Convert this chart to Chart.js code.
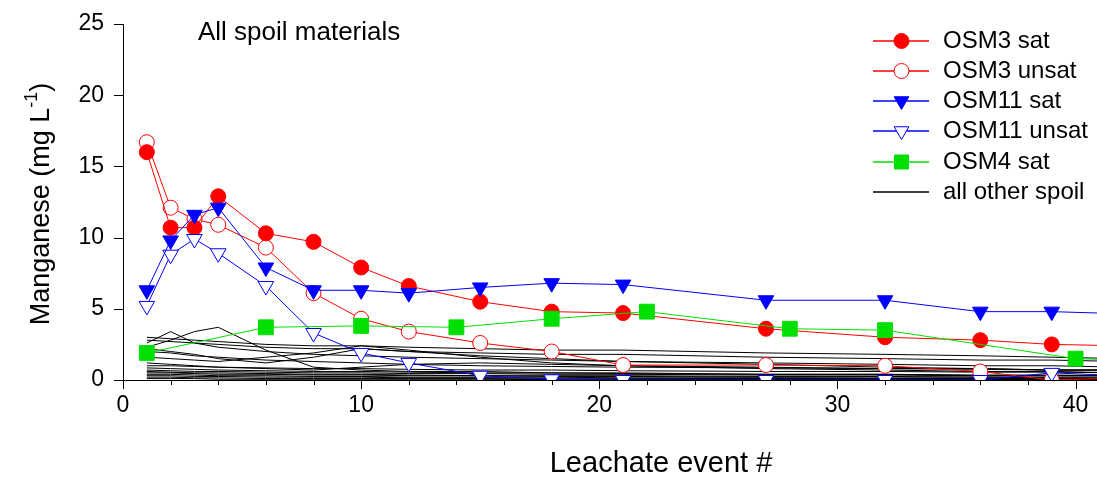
<!DOCTYPE html>
<html><head><meta charset="utf-8">
<script src="https://cdn.jsdelivr.net/npm/chart.js@4.4.0/dist/chart.umd.min.js"></script>
<style>html,body{margin:0;padding:0;background:#fff;} #wrap{width:1097px;height:477px;position:relative;}</style>
</head><body><div id="wrap"><canvas id="c" width="1097" height="477"></canvas></div>
<script>
// ---- data ----
const osm3Events = [1,2,3,4,6,8,10,12,15,18,21,27,32,36,39,42];
const osm3Sat    = [16.0,10.7,10.7,12.9,10.3,9.7,7.9,6.6,5.5,4.8,4.7,3.6,3.0,2.8,2.5,2.4];
const osm3Unsat  = [16.7,12.1,11.3,10.9,9.3,6.1,4.3,3.4,2.6,2.0,1.05,1.05,1.0,0.6,0.0,0.15];
const osm11Events = [1,2,3,4,6,8,10,12,15,18,21,27,32,36,39,42];
const osm11Sat   = [6.3,9.8,11.6,12.1,7.9,6.3,6.3,6.1,6.5,6.8,6.7,5.6,5.6,4.8,4.8,4.65];
const osm11Unsat = [5.2,8.8,9.9,8.9,6.6,3.3,1.9,1.2,0.3,0.05,0.0,0.0,0.0,0.0,0.5,0.3];
const osm4Events = [1,6,10,14,18,22,28,32,40,42];
const osm4Sat    = [1.9,3.7,3.8,3.7,4.3,4.8,3.6,3.5,1.5,1.4];

const otherEvents = [1,2,3,4,6,8,10,12,15,18,21,27,32,36,39,42];
const otherSpoil = [
  [3.0,2.9,2.8,2.7,2.5,2.4,2.4,2.3,2.2,2.1,2.1,1.9,1.8,1.7,1.6,1.5],
  [2.8,2.7,2.6,2.5,2.3,2.2,2.2,2.0,1.9,1.8,1.8,1.6,1.5,1.4,1.4,1.3],
  [2.6,3.4,2.6,2.3,2.0,1.8,1.7,1.6,1.5,1.4,1.3,1.2,1.1,1.0,1.0,0.9],
  [2.3,2.8,3.4,3.7,2.1,0.9,0.7,0.6,0.6,0.5,0.5,0.4,0.4,0.3,0.3,0.3],
  [2.2,2.0,1.8,1.5,1.2,1.6,2.2,2.0,1.7,1.5,1.3,1.1,0.9,0.8,0.7,0.7],
  [2.0,1.9,1.7,1.6,1.4,1.3,1.2,1.1,1.0,0.95,0.9,0.85,0.8,0.75,0.7,0.7],
  [1.6,1.5,1.4,1.3,1.6,1.9,2.4,2.1,1.6,1.2,1.0,0.8,0.7,0.6,0.6,0.5],
  [1.2,1.1,1.0,0.9,0.8,0.7,0.9,1.1,1.2,1.1,1.0,0.9,0.8,0.8,0.7,0.7],
  [1.0,1.0,0.95,0.9,0.85,0.8,0.8,0.75,0.7,0.7,0.65,0.6,0.6,0.55,0.55,0.5],
  [0.85,0.8,0.75,0.7,0.65,0.6,0.6,0.55,0.5,0.5,0.45,0.4,0.4,0.35,0.35,0.3],
  [0.7,0.65,0.6,0.6,0.55,0.5,0.5,0.45,0.45,0.4,0.4,0.35,0.35,0.3,0.3,0.3],
  [0.6,0.55,0.5,0.5,0.45,0.4,0.4,0.35,0.3,0.3,0.3,0.25,0.25,0.2,0.2,0.2],
  [0.5,0.5,0.45,0.4,0.4,0.35,0.35,0.3,0.3,0.25,0.25,0.2,0.2,0.2,0.15,0.15],
  [0.4,0.4,0.35,0.3,0.3,0.25,0.25,0.2,0.2,0.2,0.15,0.15,0.1,0.1,0.1,0.1],
  [0.3,0.3,0.25,0.25,0.2,0.2,0.2,0.15,0.15,0.12,0.12,0.1,0.1,0.08,0.08,0.08],
  [0.2,0.2,0.15,0.15,0.1,0.1,0.1,0.1,0.1,0.05,0.05,0.05,0.05,0.05,0.05,0.05],
  [0.1,0.1,0.1,0.05,0.05,0.05,0.05,0.05,0.05,0.03,0.03,0.03,0.03,0.03,0.03,0.03]
];

const xTickValues = [0,2,4,6,8,10,12,14,16,18,20,22,24,26,28,30,32,34,36,38,40];
const xTickLabels = ['0','','','','','10','','','','','20','','','','','30','','','','','40'];
const yTickValues = [0,5,10,15,20,25];
const yTickLabels = ['0','5','10','15','20','25'];

const legendNames = ['OSM3 sat','OSM3 unsat','OSM11 sat','OSM11 unsat','OSM4 sat','all other spoil'];
const titleText = 'All spoil materials';
const xTitle = 'Leachate event #';

// ---- styles ----
const RED = '#ff0000', BLUE = '#0000ff', GREEN = '#00e000';
const FONT = "'Liberation Sans', Arial, sans-serif";

function pts(xs, ys){ return xs.map((x,i)=>({x:x, y:ys[i]})); }

const datasets = [
  {label:legendNames[4], data:pts(osm4Events, osm4Sat), borderColor:GREEN, borderWidth:1,
   pointStyle:'rect', pointRadius:10.5, pointBackgroundColor:GREEN, pointBorderColor:GREEN, pointBorderWidth:1},
  {label:legendNames[2], data:pts(osm11Events, osm11Sat), borderColor:BLUE, borderWidth:1,
   pointStyle:'triangle', pointRotation:180, pointRadius:9, pointBackgroundColor:BLUE, pointBorderColor:BLUE, pointBorderWidth:1},
  {label:legendNames[3], data:pts(osm11Events, osm11Unsat), borderColor:BLUE, borderWidth:1,
   pointStyle:'triangle', pointRotation:180, pointRadius:9, pointBackgroundColor:'#ffffff', pointBorderColor:BLUE, pointBorderWidth:1},
  {label:legendNames[0], data:pts(osm3Events, osm3Sat), borderColor:RED, borderWidth:1,
   pointStyle:'circle', pointRadius:7.5, pointBackgroundColor:RED, pointBorderColor:RED, pointBorderWidth:1},
  {label:legendNames[1], data:pts(osm3Events, osm3Unsat), borderColor:RED, borderWidth:1,
   pointStyle:'circle', pointRadius:7.5, pointBackgroundColor:'#ffffff', pointBorderColor:RED, pointBorderWidth:1}
];
otherSpoil.forEach((vals, i) => {
  datasets.push({label: legendNames[5] + ' ' + (i+1), data: pts(otherEvents, vals),
    borderColor:'#000000', borderWidth:1, pointRadius:0});
});

function drawMarker(ctx, kind, x, y, fill, stroke){
  ctx.save();
  ctx.fillStyle = fill; ctx.strokeStyle = stroke; ctx.lineWidth = 1;
  ctx.beginPath();
  if (kind === 'circle') { ctx.arc(x, y, 7.5, 0, Math.PI*2); }
  else if (kind === 'tri') { const r = 8.5; ctx.moveTo(x, y + r); ctx.lineTo(x - r*0.866, y - r/2); ctx.lineTo(x + r*0.866, y - r/2); ctx.closePath(); }
  else if (kind === 'rect') { ctx.rect(x - 7, y - 7, 14, 14); }
  ctx.fill(); ctx.stroke();
  ctx.restore();
}

function zeroPad(s){ s.paddingTop = 0; s.paddingBottom = 0; s.paddingLeft = 0; s.paddingRight = 0; }

const decorPlugin = {
  id: 'decor',
  afterDraw(chart){
    const ctx = chart.ctx, xs = chart.scales.x, ys = chart.scales.y, ca = chart.chartArea;
    ctx.save();
    // ticks
    ctx.strokeStyle = '#000'; ctx.lineWidth = 1;
    xTickValues.forEach(v => {
      const px = Math.round(xs.getPixelForValue(v)) + 0.5;
      const len = (v % 10 === 0) ? 9 : 5;
      ctx.beginPath(); ctx.moveTo(px, ca.bottom); ctx.lineTo(px, ca.bottom + len); ctx.stroke();
    });
    yTickValues.forEach(v => {
      const py = Math.round(ys.getPixelForValue(v)) + 0.5;
      ctx.beginPath(); ctx.moveTo(ca.left - 9, py); ctx.lineTo(ca.left, py); ctx.stroke();
    });
    // inner title
    ctx.fillStyle = '#000';
    ctx.font = '26px ' + FONT; ctx.textAlign = 'left'; ctx.textBaseline = 'alphabetic';
    ctx.fillText(titleText, 198, 40);
    // x title
    ctx.font = '29px ' + FONT; ctx.textAlign = 'center'; ctx.textBaseline = 'middle';
    ctx.fillText(xTitle, 661, 464);
    // y title with superscript
    ctx.save();
    ctx.translate(40, 204); ctx.rotate(-Math.PI/2);
    const mainA = 'Manganese (mg L', sup = '-1', mainB = ')';
    ctx.font = '27px ' + FONT; const wA = ctx.measureText(mainA).width, wB = ctx.measureText(mainB).width;
    ctx.font = '18px ' + FONT; const wS = ctx.measureText(sup).width;
    let sx = -(wA + wS + wB)/2;
    ctx.textAlign = 'left'; ctx.textBaseline = 'alphabetic';
    ctx.font = '27px ' + FONT; ctx.fillText(mainA, sx, 9); sx += wA;
    ctx.font = '18px ' + FONT; ctx.fillText(sup, sx, -3); sx += wS;
    ctx.font = '27px ' + FONT; ctx.fillText(mainB, sx, 9);
    ctx.restore();
    // legend
    const rows = [41, 71, 101, 131, 162, 192];
    const specs = [
      {c:RED, m:'circle', f:RED}, {c:RED, m:'circle', f:'#fff'},
      {c:BLUE, m:'tri', f:BLUE}, {c:BLUE, m:'tri', f:'#fff'},
      {c:GREEN, m:'rect', f:GREEN}, {c:'#000', m:null}
    ];
    specs.forEach((s, i) => {
      const y = rows[i];
      ctx.strokeStyle = s.c; ctx.lineWidth = 1.3;
      ctx.beginPath(); ctx.moveTo(873, y); ctx.lineTo(929, y); ctx.stroke();
      if (s.m) drawMarker(ctx, s.m, 901.5, y, s.f, s.c);
      ctx.fillStyle = '#000'; ctx.font = '24px ' + FONT; ctx.textAlign = 'left'; ctx.textBaseline = 'middle';
      ctx.fillText(legendNames[i], 943, y + 0.5);
    });
    ctx.restore();
  }
};

new Chart(document.getElementById('c'), {
  type: 'line',
  data: { datasets: datasets },
  options: {
    responsive: false, animation: false, devicePixelRatio: 1,
    layout: { autoPadding: false, padding: { top: 24, right: 0, bottom: 0, left: 0 } },
    plugins: { legend: { display: false }, tooltip: { enabled: false } },
    elements: { line: { tension: 0 } },
    scales: {
      x: {
        type: 'linear', min: 0, max: 40.9,
        afterBuildTicks: s => { s.ticks = xTickValues.map(v => ({ value: v })); },
        afterFit: s => { s.height = 97; zeroPad(s); },
        ticks: { autoSkip: false, maxRotation: 0, padding: 12, color: '#000',
          font: { family: FONT, size: 23 },
          callback: (v) => { const i = xTickValues.indexOf(v); return i >= 0 ? xTickLabels[i] : ''; } },
        grid: { display: false, drawTicks: false },
        border: { display: true, color: '#000', width: 1 }
      },
      y: {
        type: 'linear', min: 0, max: 25,
        afterBuildTicks: s => { s.ticks = yTickValues.map(v => ({ value: v })); },
        afterFit: s => { s.width = 123; zeroPad(s); },
        ticks: { padding: 19, color: '#000', font: { family: FONT, size: 23 },
          callback: (v) => { const i = yTickValues.indexOf(v); return i >= 0 ? yTickLabels[i] : ''; } },
        grid: { display: false, drawTicks: false },
        border: { display: true, color: '#000', width: 1 }
      }
    }
  },
  plugins: [decorPlugin]
});
</script>
</body></html>
